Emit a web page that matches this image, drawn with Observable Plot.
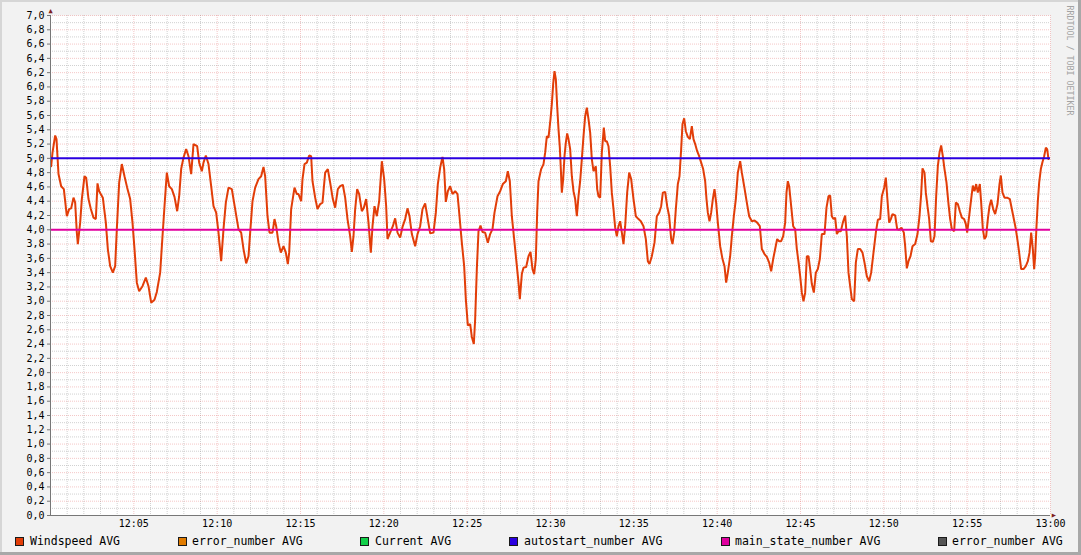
<!DOCTYPE html>
<html><head><meta charset="utf-8">
<script src="https://cdn.jsdelivr.net/npm/d3@7"></script>
<script src="https://cdn.jsdelivr.net/npm/@observablehq/plot@0.6"></script>
<style>
html,body{margin:0;padding:0;background:#f2f2f2;}
#wrap{position:relative;width:1081px;height:555px;background:#f2f2f2;overflow:hidden;font-family:"DejaVu Sans Mono",monospace;}
#chart{position:absolute;left:0;top:0;}
#chart svg{display:block;}
.bd{position:absolute;}
.sw{position:absolute;top:537px;width:7px;height:7px;border:1px solid #1a1a1a;}
.lt{position:absolute;top:535px;font-size:11.5px;line-height:12px;color:#000;white-space:pre;}
</style></head>
<body><div id="wrap"><div id="chart"></div><div id="legend"></div>
<div class="bd" style="left:0;top:0;width:1081px;height:2px;background:#d6d6d6"></div>
<div class="bd" style="left:0;top:0;width:2px;height:555px;background:#d6d6d6"></div>
<div class="bd" style="left:1078px;top:0;width:3px;height:555px;background:#a8a8a8"></div>
<div class="bd" style="left:0;top:552px;width:1081px;height:3px;background:#a8a8a8"></div>
</div>
<script>
// ---- data ----
const windMinutes = [
0.04,0.12,0.28,0.36,0.48,0.64,0.80,0.98,1.12,1.24,1.38,1.48,1.58,1.64,1.78,1.88,2.04,2.14,2.28,2.42,2.58,2.72,2.82,2.92,3.14,3.32,3.44,3.58,3.74,3.88,3.98,4.12,4.28,4.44,4.60,4.78,4.92,5.04,5.18,5.32,5.52,5.72,5.88,6.04,6.24,6.38,6.58,6.72,6.84,6.98,7.12,7.28,7.44,7.60,7.72,7.84,7.98,8.14,8.28,8.44,8.58,8.80,8.92,9.08,9.18,9.32,9.48,9.64,9.78,9.94,10.08,10.24,10.38,10.52,10.68,10.88,11.08,11.28,11.44,11.58,11.74,11.88,11.98,12.12,12.28,12.48,12.64,12.78,12.88,13.02,13.14,13.32,13.44,13.54,13.68,13.82,13.98,14.12,14.24,14.32,14.44,14.64,14.78,
14.88,15.04,15.12,15.24,15.38,15.52,15.64,15.72,15.88,16.02,16.18,16.32,16.48,16.64,16.78,16.94,17.08,17.24,17.38,17.54,17.68,17.82,17.98,18.08,18.18,18.28,18.40,18.52,18.68,18.80,18.94,19.08,19.22,19.32,19.44,19.58,19.72,19.88,20.02,20.14,20.22,20.38,20.54,20.68,20.82,20.98,21.12,21.28,21.42,21.54,21.68,21.88,22.02,22.18,22.32,22.48,22.62,22.78,22.98,23.12,23.24,23.38,23.52,23.62,23.72,23.84,23.98,24.12,24.28,24.42,24.54,24.68,24.82,24.92,25.04,25.18,25.28,25.40,25.48,25.58,25.68,25.80,25.92,26.08,26.24,26.38,26.52,26.64,26.82,26.98,27.14,27.32,27.44,27.56,27.68,27.82,27.94,28.08,28.16,28.28,28.38,28.54,28.68,28.80,28.92,29.02,29.12,29.20,29.28,29.44,29.58,29.68,29.78,
29.88,30.00,30.08,30.16,30.24,30.32,30.40,30.48,30.56,30.62,30.68,30.76,30.84,30.92,31.00,31.08,31.18,31.28,31.38,31.48,31.58,31.68,31.78,31.88,31.98,32.08,32.18,32.28,32.38,32.48,32.58,32.72,32.80,32.88,32.98,33.08,33.20,33.28,33.38,33.48,33.58,33.68,33.78,33.88,33.98,34.08,34.18,34.28,34.38,34.48,34.60,34.72,34.84,34.98,35.12,35.28,35.42,35.58,35.72,35.84,35.94,36.08,36.24,36.38,36.52,36.64,36.74,36.88,37.00,37.12,37.24,37.32,37.42,37.52,37.64,37.74,37.84,37.92,38.02,38.12,38.24,38.36,38.48,38.58,38.68,38.80,38.92,39.04,39.16,39.28,39.36,39.44,39.54,39.64,39.74,39.84,39.94,40.04,40.18,40.32,40.44,40.54,40.64,40.78,40.88,41.00,41.12,41.24,41.38,41.48,41.62,41.78,41.92,42.08,42.24,42.40,42.56,42.68,42.84,42.98,43.12,43.24,43.36,43.48,43.60,43.72,43.84,43.96,44.08,44.16,44.24,44.32,44.44,44.56,44.68,44.78,44.88,
44.98,45.08,45.18,45.28,45.38,45.48,45.58,45.68,45.80,45.92,46.04,46.16,46.28,46.44,46.56,46.68,46.78,46.88,46.98,47.08,47.18,47.28,47.42,47.54,47.68,47.78,47.88,47.98,48.08,48.22,48.32,48.44,48.58,48.72,48.84,48.98,49.12,49.24,49.38,49.52,49.64,49.78,49.88,50.02,50.12,50.20,50.32,50.42,50.52,50.68,50.80,50.92,51.06,51.20,51.28,51.38,51.48,51.60,51.72,51.88,52.02,52.14,52.24,52.32,52.44,52.52,52.62,52.72,52.82,52.94,53.04,53.14,53.24,53.34,53.44,53.54,53.64,53.76,53.88,53.98,54.08,54.22,54.32,54.44,54.56,54.68,54.82,54.92,55.00,55.12,55.24,55.34,55.44,55.54,55.64,55.76,55.84,55.94,56.04,56.14,56.24,56.34,56.44,56.56,56.68,56.82,56.94,57.02,57.12,57.24,57.40,57.56,57.68,57.80,57.92,58.04,58.12,58.24,58.38,58.52,58.64,58.74,58.84,58.94,59.02,59.08,59.16,59.24,59.32,59.42,59.52,59.62,59.72,59.80,59.88
];
const windValues = [
4.89,5.08,5.32,5.27,4.78,4.61,4.57,4.19,4.29,4.30,4.45,4.38,3.96,3.80,4.10,4.43,4.75,4.73,4.43,4.29,4.17,4.15,4.65,4.54,4.45,4.10,3.73,3.49,3.40,3.49,4.01,4.66,4.92,4.75,4.59,4.43,4.10,3.73,3.26,3.14,3.21,3.33,3.21,2.98,3.02,3.13,3.40,3.91,4.33,4.80,4.61,4.57,4.46,4.26,4.47,4.85,5.01,5.13,5.03,4.78,5.20,5.17,4.94,4.82,4.94,5.04,4.92,4.61,4.33,4.24,3.96,3.56,4.01,4.38,4.59,4.57,4.29,4.01,3.96,3.73,3.53,3.63,3.96,4.40,4.59,4.71,4.75,4.88,4.75,4.19,3.96,3.96,4.15,4.05,3.82,3.68,3.77,3.68,3.52,3.68,4.29,4.59,4.50,
4.50,4.40,4.71,4.92,4.94,5.04,5.03,4.68,4.45,4.29,4.36,4.38,4.80,4.85,4.66,4.43,4.31,4.57,4.61,4.63,4.45,4.15,3.91,3.69,3.91,4.29,4.57,4.50,4.26,4.31,4.43,4.10,3.68,4.05,4.33,4.19,4.40,4.96,4.71,4.33,3.87,3.96,4.05,4.16,3.96,3.89,4.04,4.15,4.30,4.19,3.94,3.77,3.94,4.05,4.29,4.37,4.17,3.95,3.96,4.24,4.64,4.87,5.02,4.85,4.39,4.54,4.61,4.50,4.54,4.50,4.19,3.82,3.49,3.03,2.66,2.68,2.50,2.40,2.75,3.45,3.98,4.06,3.97,3.96,3.82,3.94,4.01,4.24,4.47,4.54,4.64,4.68,4.82,4.68,4.19,3.87,3.59,3.26,3.03,3.38,3.47,3.48,3.63,3.69,3.45,3.38,3.59,4.24,4.68,4.85,4.92,5.08,5.31,
5.29,5.55,5.76,6.04,6.22,6.11,5.73,5.41,5.15,4.85,4.52,4.71,5.03,5.22,5.35,5.27,5.13,4.75,4.54,4.43,4.19,4.47,4.68,4.99,5.31,5.59,5.71,5.55,5.36,4.99,4.82,4.89,4.57,4.47,4.45,5.08,5.43,5.24,5.24,5.17,4.89,4.52,4.29,4.03,3.91,4.05,4.12,3.96,3.80,4.05,4.52,4.80,4.71,4.43,4.19,4.15,4.12,4.05,3.87,3.56,3.52,3.63,3.82,4.19,4.24,4.33,4.52,4.53,4.33,4.19,3.87,3.80,3.96,4.29,4.64,4.75,5.13,5.48,5.56,5.38,5.30,5.27,5.45,5.27,5.20,5.10,5.03,4.94,4.85,4.68,4.43,4.24,4.12,4.24,4.43,4.57,4.38,4.10,3.77,3.59,3.49,3.26,3.40,3.63,3.91,4.19,4.43,4.80,4.96,4.80,4.61,4.38,4.19,4.12,4.13,4.10,4.05,3.73,3.66,3.62,3.54,3.42,3.59,3.73,3.87,3.84,3.84,3.91,4.10,4.52,4.68,4.61,4.33,4.05,4.01,3.73,3.55,
3.35,3.12,3.00,3.12,3.63,3.63,3.45,3.24,3.12,3.40,3.45,3.59,3.94,3.94,4.31,4.47,4.48,4.19,4.15,4.17,3.94,3.98,3.98,4.10,4.20,3.91,3.40,3.21,3.03,3.00,3.54,3.73,3.73,3.68,3.54,3.35,3.28,3.40,3.68,3.96,4.14,4.15,4.47,4.59,4.73,4.47,4.10,4.15,4.22,4.20,4.01,4.00,4.03,3.96,3.77,3.46,3.56,3.63,3.77,3.80,3.94,4.19,4.50,4.86,4.80,4.52,4.33,4.15,3.84,3.83,3.91,4.47,4.89,5.08,5.18,5.03,4.85,4.66,4.36,4.15,4.01,3.98,4.38,4.36,4.26,4.17,4.15,4.08,3.96,4.19,4.43,4.62,4.54,4.64,4.52,4.64,4.38,4.01,3.87,3.91,4.15,4.33,4.42,4.29,4.22,4.36,4.64,4.76,4.52,4.45,4.45,4.43,4.29,4.15,4.01,3.82,3.68,3.45,3.45,3.49,3.56,3.68,3.96,3.73,3.45,3.63,4.05,4.40,4.66,4.85,4.95,5.03,5.15,5.13,4.99
];
const autostartNumber = [5.0];
const mainStateNumber = [4.0];
const legendNames = ["Windspeed AVG","error_number AVG","Current AVG","autostart_number AVG","main_state_number AVG","error_number AVG"];
const legendColors = ["#e23d08","#e07b00","#12d04a","#2a00e0","#e000a0","#555555"];
const brandText = "RRDTOOL / TOBI OETIKER";

// ---- layout (not data) ----
const legendSwatchX = [15,178,360,509,721,938];
const legendTextX = [30,192,375,524,735,952];

const t0 = Date.UTC(2024,0,1,12,0,0);
const toDate = m => new Date(t0 + m*60000);
const wind = windMinutes.map((m,i)=>({t: toDate(m), v: windValues[i]}));
const xMinor = d3.range(0,61).filter(i=>i%5!==0).map(toDate);
const xMajor = d3.range(0,61,5).map(toDate);
const xLabels = d3.range(5,61,5).map(toDate);
const yMinor = d3.range(1,70,2).map(i=>i/10);
const yMajor = d3.range(0,36).map(i=>+(i/5).toFixed(1));
const fmtY = d => d.toFixed(1).replace(".", ",");

const gridStyle = {stroke:"#9a9a9a", strokeOpacity:0.45, strokeDasharray:"1,1"};
const mgridStyle = {stroke:"#de5050", strokeOpacity:0.32, strokeDasharray:"1,1"};

const chart = Plot.plot({
  width:1081, height:532,
  marginLeft:50, marginRight:31, marginTop:15, marginBottom:17,
  x:{type:"utc", domain:[toDate(0), toDate(60)]},
  y:{domain:[0,7]},
  style:{background:"transparent", fontFamily:"DejaVu Sans Mono", fontSize:"10px", color:"#000", overflow:"visible"},
  marks:[
    Plot.frame({fill:"white", stroke:null}),
    Plot.ruleX(xMinor, gridStyle),
    Plot.ruleY(yMinor, gridStyle),
    Plot.ruleX(xMajor, mgridStyle),
    Plot.ruleY(yMajor, mgridStyle),
    Plot.line(wind, {x:"t", y:"v", stroke:legendColors[0], strokeWidth:2, strokeLinejoin:"miter"}),
    Plot.ruleY(autostartNumber, {stroke:legendColors[3], strokeWidth:2}),
    Plot.ruleY(mainStateNumber, {stroke:legendColors[4], strokeWidth:2}),
    Plot.axisY({ticks:yMajor, tickFormat:fmtY, tickSize:3, tickPadding:3, stroke:"#777", label:null, fill:"#000"}),
    Plot.axisX({ticks:xLabels, tickFormat:d3.utcFormat("%H:%M"), tickSize:0, tickPadding:4, label:null, fill:"#000"}),
    Plot.ruleX([toDate(0)], {stroke:"#777"}),
    Plot.ruleY([0], {stroke:"#777"}),
    Plot.text(["▲"], {x:()=>toDate(0), y:()=>7, text:d=>d, dy:-5, fill:"#801f1f", fontSize:7}),
    Plot.text(["▲"], {x:()=>toDate(60), y:()=>0, text:d=>d, dx:4, rotate:90, fill:"#801f1f", fontSize:7}),
    Plot.text([brandText], {frameAnchor:"top-right", text:d=>d, rotate:90, textAnchor:"start", dx:22, dy:-10, fill:"#a3a3a3", fontSize:8.3})
  ]
});
document.getElementById("chart").appendChild(chart);

const lg = document.getElementById("legend");
legendNames.forEach((name,i)=>{
  const s = document.createElement("div");
  s.className = "sw"; s.style.left = legendSwatchX[i]+"px"; s.style.background = legendColors[i];
  lg.appendChild(s);
  const t = document.createElement("div");
  t.className = "lt"; t.style.left = legendTextX[i]+"px"; t.textContent = name;
  lg.appendChild(t);
});
</script></body></html>
